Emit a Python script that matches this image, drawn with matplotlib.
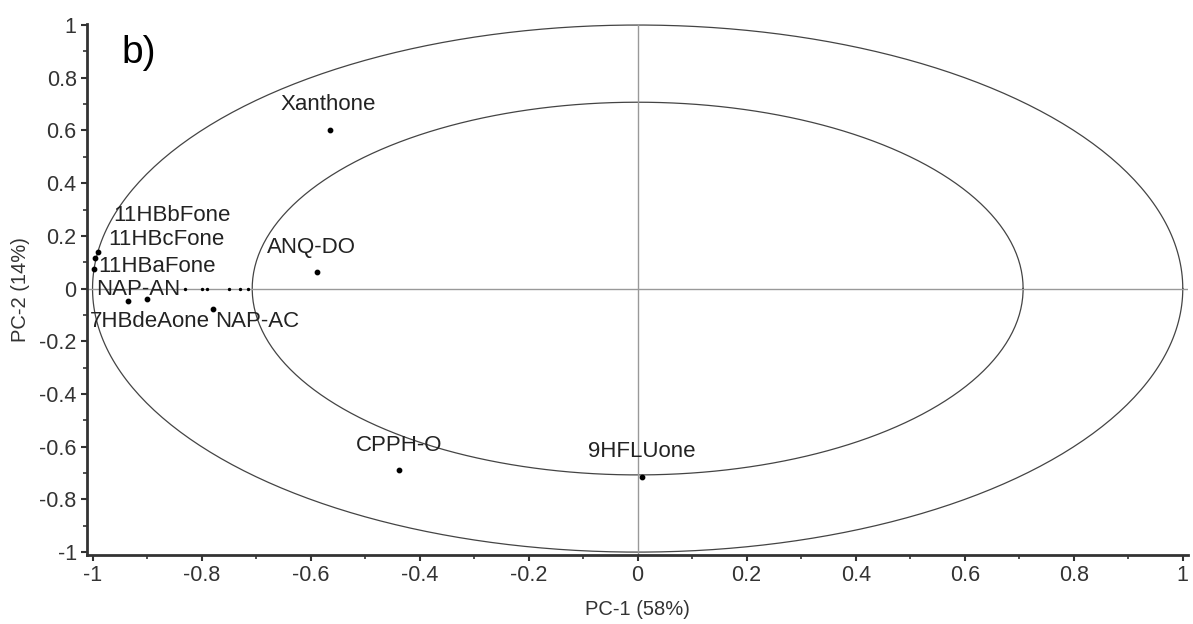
import matplotlib.pyplot as plt
import numpy as np

plt.rcParams['font.family'] = ['Liberation Sans', 'DejaVu Sans']

# labelled loadings
names = ["Xanthone", "ANQ-DO", "CPPH-O", "9HFLUone", "NAP-AC",
         "7HBdeAone", "NAP-AN", "11HBaFone", "11HBcFone", "11HBbFone"]
pc1 = [-0.565, -0.589, -0.437, 0.008, -0.779, -0.935, -0.900, -0.998, -0.995, -0.990]
pc2 = [0.603, 0.063, -0.690, -0.715, -0.076, -0.048, -0.039, 0.075, 0.115, 0.140]
# label positions (data units)
lab_x = [-0.567, -0.598, -0.437, 0.007, -0.698, -0.895, -0.917, -0.882, -0.865, -0.854]
lab_y = [0.698, 0.156, -0.596, -0.617, -0.125, -0.125, -0.004, 0.083, 0.186, 0.277]

# small unlabelled loadings along the axis
small_x = [-0.83, -0.80, -0.79, -0.75, -0.73, -0.715]
small_y = [0.0, 0.0, 0.0, 0.0, 0.0, 0.0]

fig = plt.figure(figsize=(11.93, 6.24), dpi=100)
ax = fig.add_axes([0.073, 0.111, 0.923, 0.851])

t = np.linspace(0, 2 * np.pi, 400)
for r in [1.0, np.sqrt(0.5)]:
    ax.plot(r * np.cos(t), r * np.sin(t), color="#444444", lw=0.9)

ax.axhline(0, color="#999999", lw=1.0)
ax.axvline(0, color="#999999", lw=1.0)

ax.scatter(pc1, pc2, s=10, color="black", zorder=3)
ax.scatter(small_x, small_y, s=2, color="black", zorder=3)
for n, x, y in zip(names, lab_x, lab_y):
    ax.text(x, y, n, ha="center", va="center", fontsize=16, color="#222222")

ax.text(-0.915, 0.895, "b)", fontsize=28, ha="center", va="center")

ax.set_xlim(-1.01, 1.01)
ax.set_ylim(-1.01, 1.005)
ticks = np.round(np.arange(-1, 1.01, 0.2), 1)
lbl = ["-1", "-0.8", "-0.6", "-0.4", "-0.2", "0", "0.2", "0.4", "0.6", "0.8", "1"]
ax.set_xticks(ticks)
ax.set_xticklabels(lbl)
ax.set_yticks(ticks)
ax.set_yticklabels(lbl)
ax.set_xticks(np.arange(-0.9, 1.0, 0.2), minor=True)
ax.set_yticks(np.arange(-0.9, 1.0, 0.2), minor=True)
ax.tick_params(labelsize=15.5, colors="#333333", width=1.5, length=4)
ax.tick_params(which="minor", width=1.2, length=3, colors="#333333")

for s in ["top", "right"]:
    ax.spines[s].set_visible(False)
for s in ["left", "bottom"]:
    ax.spines[s].set_linewidth(2)
    ax.spines[s].set_color("#333333")

ax.set_xlabel("PC-1 (58%)", fontsize=14.5, color="#333333", labelpad=10)
ax.set_ylabel("PC-2 (14%)", fontsize=14.5, color="#333333", labelpad=7)

fig.savefig("out.png", dpi=100)
